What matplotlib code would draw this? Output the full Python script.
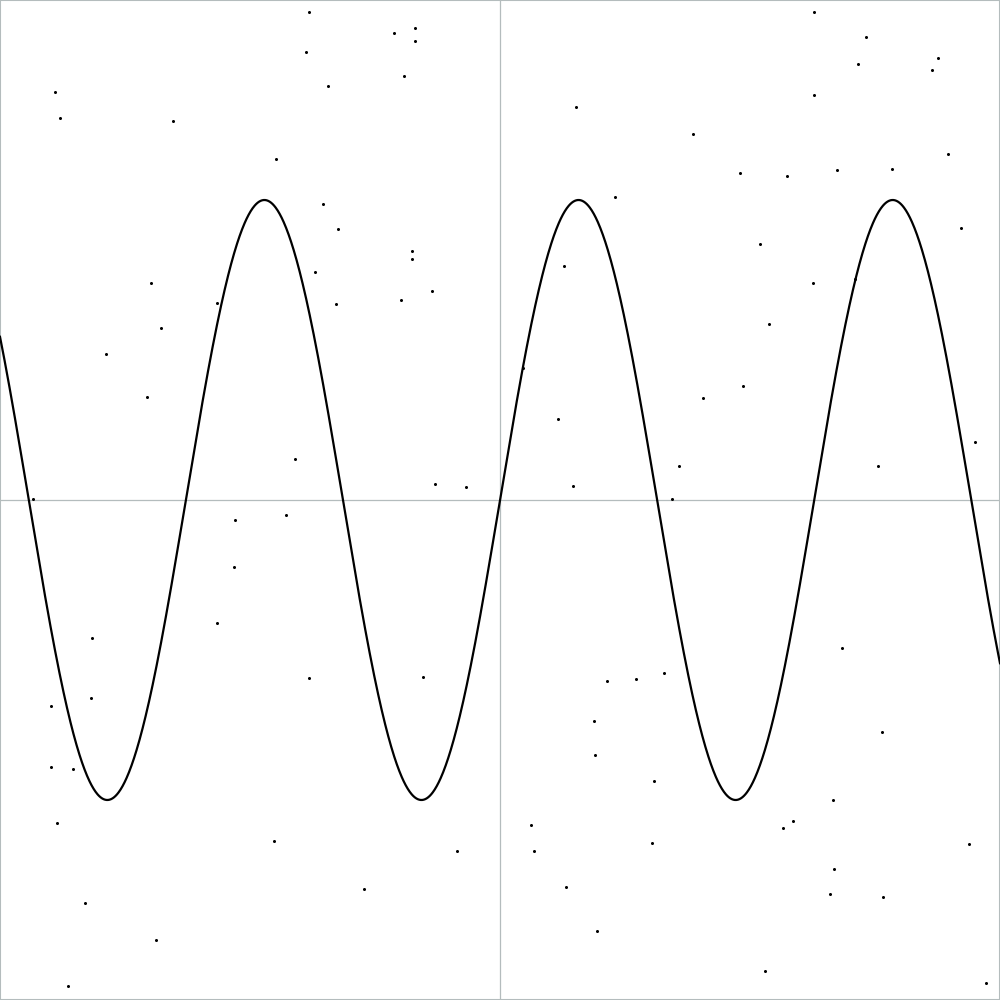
import numpy as np
import matplotlib.pyplot as plt

# scattered points (data coords, axes span -10..10)
pts_x = [-3.82, -2.12, -1.70, -1.70, -3.88, -1.92, -3.44, -8.90, -8.80, -6.54,
         -4.48, -3.54, -3.24, -1.76, -1.76, -3.70, -6.98, -1.36, -1.98, -5.66,
         -3.28, -6.78, -7.88, -7.06, -4.10, -1.30, -0.68, -9.34,
         6.28, 7.32, 7.16, 8.76, 8.64, 6.28, 1.52, 3.86, 8.96, 4.80,
         5.74, 6.74, 7.84, 2.30, 9.22, 5.20, 1.28, 6.26, 7.10, 5.38,
         0.46, 4.86, 4.06, 1.16, 9.50, 7.56, 3.58, 1.46, 3.44,
         -5.30, -4.28, -5.32, -5.66, -8.16, -3.82, -1.54, -8.98, -8.18, -8.98,
         -8.54, -8.86, -4.52, -0.86, -2.72, -8.30, -6.88, -8.64,
         6.84, 3.28, 2.72, 2.14, 7.64, 1.88, 1.90, 3.08, 6.66, 5.86,
         5.66, 0.62, 0.68, 3.04, 9.38, 6.68, 6.60, 7.66, 1.32, 1.94,
         5.30, 9.72]
pts_y = [9.76, 9.34, 9.44, 9.18, 8.96, 8.48, 8.28, 8.16, 7.64, 7.58,
         6.82, 5.92, 5.42, 4.98, 4.82, 4.56, 4.34, 4.18, 4.00, 3.94,
         3.92, 3.44, 2.92, 2.06, 0.82, 0.32, 0.26, 0.02,
         9.76, 9.26, 8.72, 8.84, 8.60, 8.10, 7.86, 7.32, 6.92, 6.54,
         6.48, 6.60, 6.62, 6.06, 5.44, 5.12, 4.68, 4.34, 4.42, 3.52,
         2.64, 2.28, 2.04, 1.62, 1.16, 0.68, 0.68, 0.28, 0.02,
         -0.40, -0.30, -1.34, -2.46, -2.76, -3.56, -3.54, -4.12, -3.96, -5.34,
         -5.38, -6.46, -6.82, -7.02, -7.78, -8.06, -8.80, -9.72,
         -2.96, -3.46, -3.58, -3.62, -4.64, -4.42, -5.10, -5.62, -6.00, -6.42,
         -6.56, -6.50, -7.02, -6.86, -6.88, -7.38, -7.88, -7.94, -7.74, -8.62,
         -9.42, -9.66]

amplitude = 6
x = np.linspace(-10, 10, 2000)
y = amplitude * np.sin(x)

grid_color = "#b4bcbd"

fig = plt.figure(figsize=(10, 10), dpi=100)
ax = fig.add_axes([0, 0, 1, 1])
ax.set_xlim(-10, 10)
ax.set_ylim(-10, 10)

ax.axhline(0, color=grid_color, linewidth=0.9, zorder=1)
ax.axvline(0, color=grid_color, linewidth=0.9, zorder=1)
ax.plot(x, y, color="black", linewidth=1.6, zorder=3)
ax.plot(pts_x, pts_y, "o", color="black", markersize=2.2, markeredgewidth=0, zorder=2)

ax.set_xticks([])
ax.set_yticks([])
for s in ax.spines.values():
    s.set_color(grid_color)
    s.set_linewidth(1.5)

plt.savefig("out.png", dpi=100)
